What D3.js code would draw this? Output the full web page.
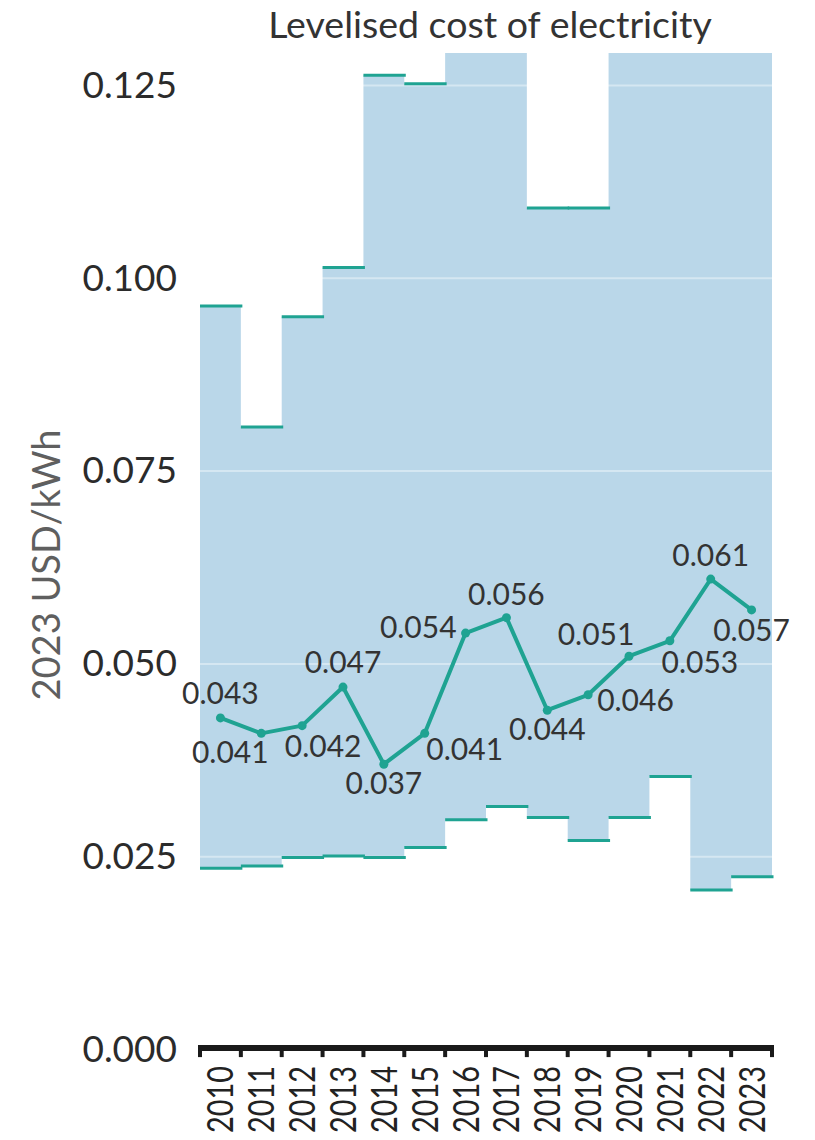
<!DOCTYPE html>
<html>
<head>
<meta charset="utf-8">
<script src="https://cdn.jsdelivr.net/npm/d3@7"></script>
<style>
  html, body { margin: 0; padding: 0; background: #ffffff; }
  svg { display: block; }
  text { font-family: Lato, "Noto Sans", "Open Sans", sans-serif; }
</style>
</head>
<body>
<svg id="chart" width="815" height="1140"></svg>
<script>
// Levelised cost of electricity, 2023 USD/kWh
const years = ["2010", "2011", "2012", "2013", "2014", "2015", "2016",
               "2017", "2018", "2019", "2020", "2021", "2022", "2023"];

// weighted average (line)
const weightedAverage = [0.043, 0.041, 0.042, 0.047, 0.037, 0.041, 0.054,
                         0.056, 0.044, 0.046, 0.051, 0.053, 0.061, 0.057];

// 5th percentile (lower edge of the band)
const percentile5 = [0.0235, 0.0238, 0.0249, 0.0251, 0.0249, 0.0262, 0.0298,
                     0.0315, 0.0301, 0.0271, 0.0301, 0.0354, 0.0207, 0.0224];

// 95th percentile (upper edge of the band); several years run above the axis range
const percentile95 = [0.0964, 0.0807, 0.0950, 0.1014, 0.1263, 0.1252, 0.1350,
                      0.1330, 0.1091, 0.1091, 0.1380, 0.1400, 0.1420, 0.1400];

const yTickValues = [0, 0.025, 0.05, 0.075, 0.1, 0.125];
const yMax = 0.1292;

// where each value label sits relative to its point: [dx, dy, anchor]
const labelOffsets = [
  [0, -14, "middle"], [-31, 30, "middle"], [21, 31, "middle"], [0, -14, "middle"],
  [0, 30, "middle"], [40, 27, "middle"], [-9, 5, "end"], [0, -13, "middle"],
  [0, 30, "middle"], [9, 16, "start"], [-33, -11, "middle"], [30, 32, "middle"],
  [0, -13, "middle"], [0, 31, "middle"]
];

const teal = "#1fa392";
const bandFill = "#bad7e9";

const svg = d3.select("#chart");
const plotLeft = 200, plotRight = 772, plotTop = 53, plotBottom = 1049.6;

const x = d3.scaleBand().domain(years).range([plotLeft, plotRight]).padding(0);
const y = d3.scaleLinear().domain([0, yMax]).range([plotBottom, plotTop]);

svg.append("defs").append("clipPath").attr("id", "plot-clip")
  .append("rect")
  .attr("x", plotLeft - 4).attr("y", plotTop)
  .attr("width", plotRight - plotLeft + 8).attr("height", plotBottom - plotTop);

const rows = years.map((yr, i) => ({
  year: yr, avg: weightedAverage[i], lo: percentile5[i], hi: percentile95[i],
  x0: x(yr), x1: x(yr) + x.bandwidth(), cx: x(yr) + x.bandwidth() / 2
}));

// stepped percentile band
const stepPoints = rows.flatMap(r => [
  { x: r.x0, lo: r.lo, hi: r.hi },
  { x: r.x1, lo: r.lo, hi: r.hi }
]);
const area = d3.area()
  .x(d => d.x)
  .y0(d => y(d.lo))
  .y1(d => y(d.hi));

const plot = svg.append("g").attr("clip-path", "url(#plot-clip)");
plot.append("path")
  .datum(stepPoints)
  .attr("d", area)
  .attr("fill", bandFill);

// horizontal gridlines, visible over the band
plot.append("g")
  .selectAll("line")
  .data(yTickValues.filter(v => v > 0))
  .join("line")
  .attr("x1", plotLeft).attr("x2", plotRight)
  .attr("y1", d => y(d)).attr("y2", d => y(d))
  .attr("stroke", "#ffffff")
  .attr("stroke-opacity", 0.4)
  .attr("stroke-width", 2);

// percentile caps
const caps = rows.flatMap(r => [
  { x0: r.x0, x1: r.x1, v: r.lo },
  { x0: r.x0, x1: r.x1, v: r.hi }
]).filter(c => c.v <= yMax);
plot.append("g")
  .selectAll("line")
  .data(caps)
  .join("line")
  .attr("x1", d => d.x0).attr("x2", d => d.x1 + 1.5)
  .attr("y1", d => y(d.v)).attr("y2", d => y(d.v))
  .attr("stroke", teal)
  .attr("stroke-width", 3);

// weighted average line and points
const line = d3.line().x(d => d.cx).y(d => y(d.avg));
svg.append("path")
  .datum(rows)
  .attr("d", line)
  .attr("fill", "none")
  .attr("stroke", teal)
  .attr("stroke-width", 4)
  .attr("stroke-linejoin", "round");

svg.append("g")
  .selectAll("circle")
  .data(rows)
  .join("circle")
  .attr("cx", d => d.cx)
  .attr("cy", d => y(d.avg))
  .attr("r", 4.5)
  .attr("fill", teal);

// value labels
const fmt = d3.format(".3f");
svg.append("g")
  .selectAll("text")
  .data(rows)
  .join("text")
  .attr("x", (d, i) => d.cx + labelOffsets[i][0])
  .attr("y", (d, i) => y(d.avg) + labelOffsets[i][1])
  .attr("text-anchor", (d, i) => labelOffsets[i][2])
  .attr("font-size", 30)
  .attr("fill", "#333333")
  .text(d => fmt(d.avg));

// y axis (labels only)
const yAxis = svg.append("g")
  .attr("transform", `translate(${plotLeft},0)`)
  .call(d3.axisLeft(y).tickValues(yTickValues).tickFormat(fmt).tickSize(0).tickPadding(23));
yAxis.select(".domain").remove();
yAxis.selectAll("text")
  .attr("font-family", "Lato, 'Noto Sans', sans-serif")
  .attr("font-size", 37)
  .attr("fill", "#2b2b2b");

// x axis: heavy baseline, boundary ticks, rotated year labels
const xAxis = svg.append("g")
  .attr("transform", `translate(0,${plotBottom - 1.5})`)
  .call(d3.axisBottom(x).tickSize(0));
xAxis.select(".domain").remove();
xAxis.selectAll("text")
  .attr("transform", "rotate(-90)")
  .attr("x", -18)
  .attr("y", 0)
  .attr("dy", "0.36em")
  .attr("text-anchor", "end")
  .attr("font-family", "'Liberation Sans Narrow', Lato, sans-serif")
  .attr("font-size", 36)
  .attr("textLength", 67)
  .attr("lengthAdjust", "spacingAndGlyphs")
  .attr("fill", "#222222");

xAxis.append("line")
  .attr("x1", plotLeft - 2).attr("x2", plotRight + 2)
  .attr("y1", 0).attr("y2", 0)
  .attr("stroke", "#1a1a1a")
  .attr("stroke-width", 6);

const boundaries = years.map(yr => x(yr)).concat([x(years[years.length - 1]) + x.bandwidth()]);
xAxis.append("g")
  .selectAll("line")
  .data(boundaries)
  .join("line")
  .attr("x1", d => d).attr("x2", d => d)
  .attr("y1", 0).attr("y2", 9)
  .attr("stroke", "#1a1a1a")
  .attr("stroke-width", 4);

// axis title
svg.append("text")
  .attr("transform", `translate(47,${(433 + 697) / 2}) rotate(-90)`)
  .attr("text-anchor", "middle")
  .attr("dy", "0.35em")
  .attr("font-size", 38)
  .attr("fill", "#5f5f5f")
  .text("2023 USD/kWh");

// chart title
svg.append("text")
  .attr("x", 490)
  .attr("y", 38)
  .attr("text-anchor", "middle")
  .attr("font-size", 37.5)
  .attr("fill", "#333333")
  .text("Levelised cost of electricity");
</script>
</body>
</html>
